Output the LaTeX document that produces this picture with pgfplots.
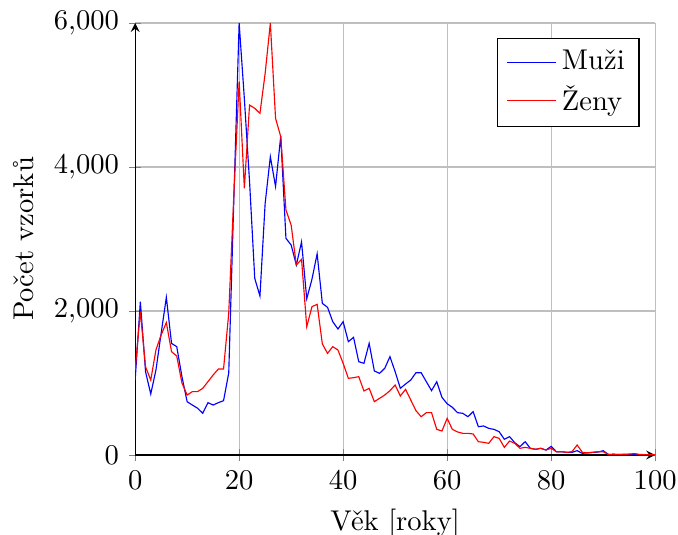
\documentclass[border=0pt]{standalone}
\usepackage{pgfplots}
\pgfplotsset{compat=1.18}
\begin{document}
\begin{tikzpicture}
\begin{axis}[
  scale only axis,
  width=182pt, height=151.2pt,
  axis lines=left,
  xmin=0, xmax=100, ymin=0, ymax=6000,
  xtick={0,20,40,60,80,100},
  ytick={0,2000,4000,6000},
  grid=major,
  xlabel={Věk [roky]},
  ylabel={Počet vzorků},
  legend style={at={(0.97,0.965)}, anchor=north east, cells={anchor=west}},
]
\addplot[blue] coordinates {
(0,1040) (1,2130) (2,1157) (3,847) (4,1180) (5,1690) (6,2190) (7,1550) (8,1505) (9,1088)
(10,740) (11,694) (12,650) (13,580) (14,727) (15,694) (16,727) (17,754) (18,1140) (19,3600)
(20,6000) (21,4950) (22,3800) (23,2454) (24,2208) (25,3495) (26,4143) (27,3730) (28,4430) (29,3009)
(30,2917) (31,2639) (32,2960) (33,2170) (34,2440) (35,2795) (36,2106) (37,2051) (38,1852) (39,1750)
(40,1852) (41,1574) (42,1634) (43,1296) (44,1273) (45,1551) (46,1167) (47,1134) (48,1204) (49,1366)
(50,1157) (51,926) (52,986) (53,1041) (54,1143) (55,1143) (56,1018) (57,894) (58,1018) (59,801)
(60,712) (61,662) (62,588) (63,579) (64,532) (65,602) (66,393) (67,403) (68,370) (69,356)
(70,324) (71,218) (72,255) (73,171) (74,116) (75,185) (76,93) (77,79) (78,93) (79,69)
(80,120) (81,46) (82,46) (83,37) (84,37) (85,60) (86,23) (87,30) (88,37) (89,40)
(90,60) (91,8) (92,10) (93,8) (94,6) (95,10) (96,8) (97,5) (98,5) (99,4) (100,3)
};
\addlegendentry{Muži}
\addplot[red] coordinates {
(0,1180) (1,1990) (2,1226) (3,1040) (4,1460) (5,1667) (6,1840) (7,1435) (8,1375) (9,1000)
(10,833) (11,880) (12,880) (13,926) (14,1018) (15,1111) (16,1194) (17,1194) (18,1970) (19,3650)
(20,5190) (21,3704) (22,4861) (23,4815) (24,4745) (25,5300) (26,6000) (27,4676) (28,4421) (29,3403)
(30,3194) (31,2639) (32,2718) (33,1782) (34,2060) (35,2093) (36,1542) (37,1412) (38,1505) (39,1458)
(40,1273) (41,1065) (42,1074) (43,1088) (44,889) (45,926) (46,741) (47,787) (48,833) (49,894)
(50,972) (51,819) (52,912) (53,764) (54,616) (55,532) (56,588) (57,588) (58,356) (59,333)
(60,509) (61,356) (62,320) (63,301) (64,301) (65,292) (66,185) (67,176) (68,162) (69,255)
(70,231) (71,106) (72,194) (73,162) (74,93) (75,106) (76,93) (77,79) (78,93) (79,69)
(80,93) (81,46) (82,46) (83,37) (84,46) (85,139) (86,37) (87,30) (88,37) (89,46)
(90,46) (91,8) (92,10) (93,8) (94,10) (95,12) (96,20) (97,8) (98,5) (99,4) (100,3)
};
\addlegendentry{Ženy}
\coordinate (ll) at (rel axis cs:0,0);
\coordinate (ur) at (rel axis cs:1,1);
\end{axis}
\pgfresetboundingbox
\path ([shift={(-47.3pt,-27.65pt)}]ll) rectangle ([shift={(8pt,8.05pt)}]ur);
\end{tikzpicture}
\end{document}
